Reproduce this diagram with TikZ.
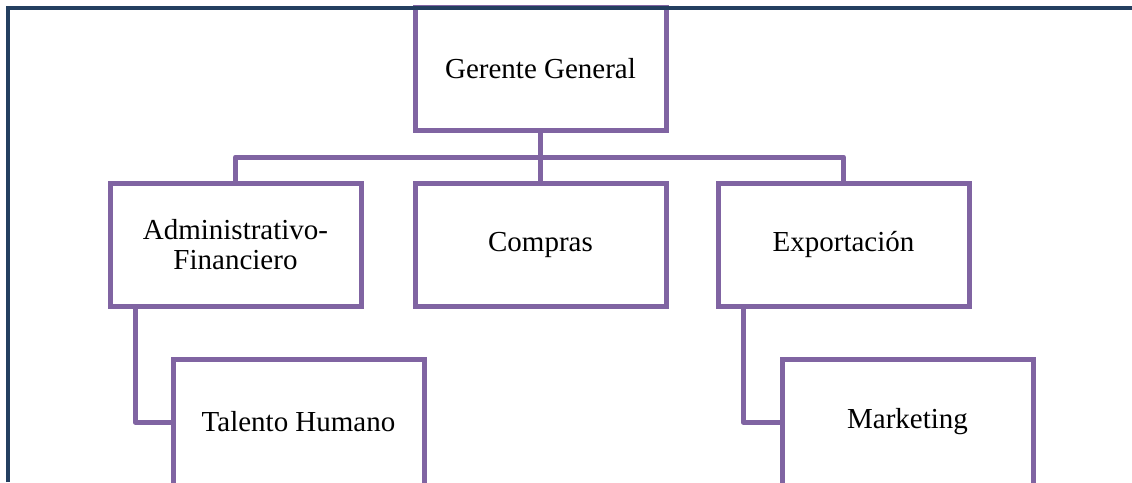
\documentclass[tikz,border=0pt]{standalone}
\usepackage{fontspec}
\setmainfont{Liberation Serif}
\definecolor{boxpurple}{HTML}{8064A2}
\definecolor{framenavy}{HTML}{243F60}
\begin{document}
\begin{tikzpicture}[x=1pt,y=-1pt]
        \tikzstyle{unit_style} = [rectangle,draw=boxpurple,line width=5pt,fill=white,
                                  minimum width=251pt,minimum height=123pt,align=center,
                                  font=\fontsize{29}{30}\selectfont]
        \tikzstyle{sub_style} = [unit_style,minimum height=126pt]
        \tikzstyle{link_style} = [draw=boxpurple,line width=5pt,line join=round]
        \useasboundingbox (0,0) rectangle (1132,482);
        \clip (0,0) rectangle (1132,482);
        \node[unit_style] (gerente) at (540.5,68.5) {Gerente General};
        \node[unit_style] (admin) at (235.5,244.5) {Administrativo-\\Financiero};
        \node[unit_style] (compras) at (540.5,244.5) {Compras};
        \node[unit_style] (export) at (843.5,244.5) {Exportación};
        \node[sub_style] (talento) at (298.5,422) {Talento Humano};
        \node[sub_style] (marketing) at (907.5,422) {Marketing};
        \coordinate (bus) at (540.5,157);
        \draw[link_style]  (gerente) edge (compras);
        \draw[link_style]  (admin.north) |- (bus) -| (export.north);
        \draw[link_style]  ([xshift=27.5pt]admin.south west) |- (talento.west);
        \draw[link_style]  ([xshift=27.5pt]export.south west) |- (marketing.west);
        % page frame
        \draw[framenavy,line width=4pt] (8,482) -- (8,8) -- (1132,8);
      \end{tikzpicture}
\end{document}
